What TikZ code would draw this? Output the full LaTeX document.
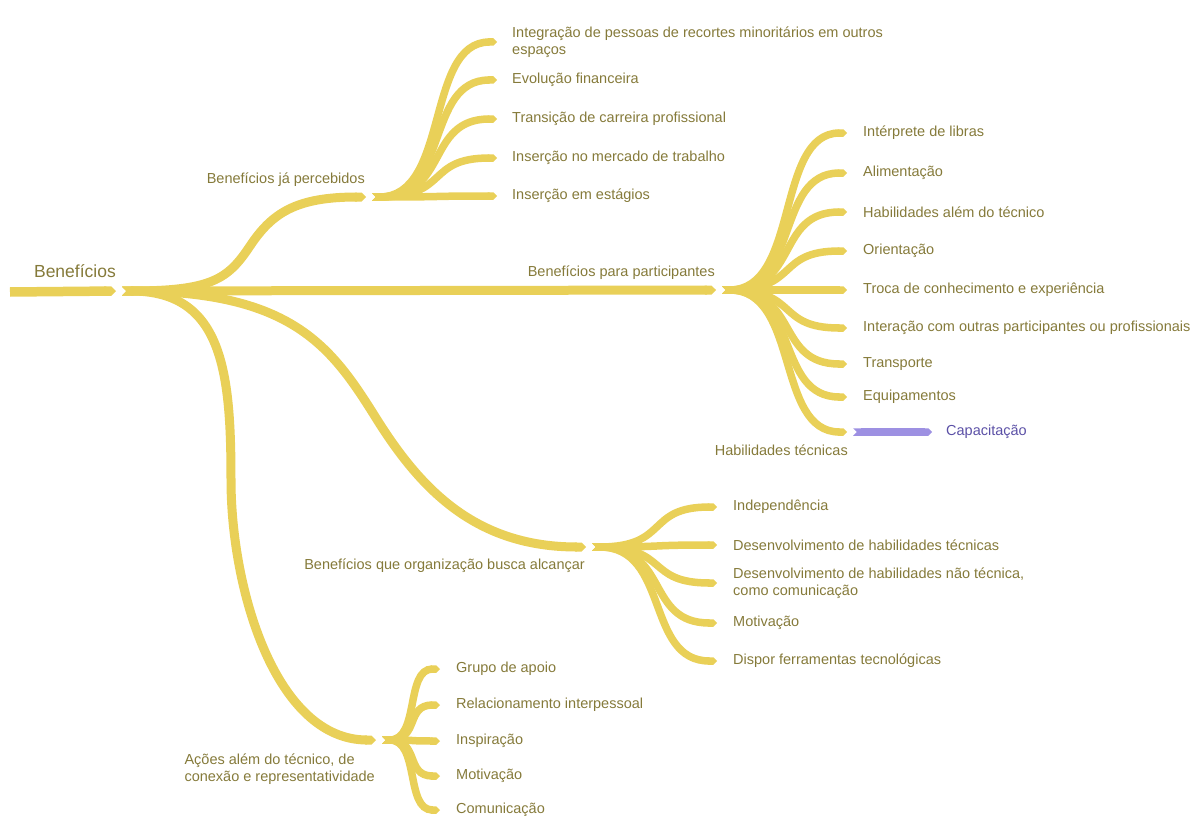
\documentclass[tikz,border=0pt]{standalone}
\usepackage{fontspec}
\setmainfont{Liberation Sans}
\usetikzlibrary{arrows.meta,positioning}
\definecolor{amarelo}{HTML}{E9D058}
\definecolor{oliva}{HTML}{857A3A}
\definecolor{lilas}{HTML}{9D90E2}
\definecolor{roxo}{HTML}{5B50A6}
\tikzset{
  tronco/.style={draw=amarelo,line width=9.5pt,-{Triangle Cap}},
  galho/.style={draw=amarelo,line width=9pt,{Triangle Cap[reversed]}-{Triangle Cap}},
  subgalho/.style={draw=amarelo,line width=7.5pt,{Triangle Cap[reversed]}-{Triangle Cap}},
  rotulo/.style={text=oliva,font=\fontsize{14.5}{17}\selectfont,align=left,inner sep=0pt},
  titulo/.style={text=oliva,font=\fontsize{17.5}{20}\selectfont,inner sep=0pt}
}
\begin{document}
\begin{tikzpicture}[x=1pt,y=-1pt]
\useasboundingbox (0,0) rectangle (1195,816);
% tronco principal
\coordinate (ini) at (10,292);
\coordinate (raiz) at (116,291);
\coordinate (b1) at (366,197);
\coordinate (b2) at (716,290);
\coordinate (b3) at (586,547);
\coordinate (b4) at (376,740);
% pontos de inflexao dos ramos
\coordinate (m1) at (250,246);
\coordinate (m3) at (376,418);
\coordinate (m4) at (231,480);
\draw[tronco] (ini) -- (raiz);
\node[titulo,above left=13pt and 0pt of raiz] (ben) {Benefícios};
% ramos principais
\draw[galho] ([xshift=6pt]raiz) .. controls +(90,0) and +(-22,33) .. (m1)
  .. controls +(22,-33) and +(-70,0) .. (b1);
\draw[galho] ([xshift=6pt]raiz) -- (b2);
\draw[galho] ([xshift=6pt]raiz) .. controls +(170,0) and +(-45,-72) .. (m3)
  .. controls +(45,72) and +(-110,0) .. (b3);
\draw[galho] ([xshift=6pt]raiz) .. controls +(100,0) and +(0,-110) .. (m4)
  .. controls +(0,110) and +(-100,0) .. (b4);
\node[rotulo,above left=10pt and 1pt of b1] (l1) {Benefícios já percebidos};
\node[rotulo,above left=10pt and 1pt of b2] (l2) {Benefícios para participantes};
\node[rotulo,below left=12pt and 1pt of b3] (l3) {Benefícios que organização busca alcançar};
\node[rotulo,below left=14pt and 1pt of b4] (l4) {Ações além do técnico, de\\conexão e representatividade};
% beneficios ja percebidos
\foreach \y/\txt [count=\i] in {42/{Integração de pessoas de recortes minoritários em outros\\espaços},
  80/Evolução financeira,119/Transição de carreira profissional,
  158/Inserção no mercado de trabalho,196/Inserção em estágios}{
  \coordinate (p\i) at (497,\y);
  \draw[subgalho] ([xshift=6pt]b1) .. controls +(78,0) and +(-72,0) .. (p\i);
  \node[rotulo,right=15pt of p\i] (tp\i) {\txt};
}
% beneficios para participantes
\foreach \y/\txt [count=\i] in {133/Intérprete de libras,173/Alimentação,
  212/Habilidades além do técnico,251/Orientação,
  290/Troca de conhecimento e experiência,
  328/Interação com outras participantes ou profissionais,
  364/Transporte,397/Equipamentos}{
  \coordinate (q\i) at (847,\y);
  \draw[subgalho] ([xshift=6pt]b2) .. controls +(78,0) and +(-72,0) .. (q\i);
  \node[rotulo,right=16pt of q\i] (tq\i) {\txt};
}
\coordinate (hab) at (847,432);
\draw[subgalho] ([xshift=6pt]b2) .. controls +(78,0) and +(-72,0) .. (hab);
\node[rotulo,below left=13pt and -1pt of hab] (thab) {Habilidades técnicas};
\coordinate (cap) at (932,432);
\draw[subgalho,draw=lilas] ([xshift=6pt]hab) -- (cap);
\node[rotulo,text=roxo,right=14pt of cap] (tcap) {Capacitação};
% beneficios que a organizacao busca
\foreach \y/\txt [count=\i] in {507/Independência,
  545/Desenvolvimento de habilidades técnicas,
  583/{Desenvolvimento de habilidades não técnica,\\como comunicação},
  623/Motivação,661/Dispor ferramentas tecnológicas}{
  \coordinate (r\i) at (717,\y);
  \draw[subgalho] ([xshift=6pt]b3) .. controls +(78,0) and +(-72,0) .. (r\i);
  \node[rotulo,right=16pt of r\i] (tr\i) {\txt};
}
% acoes alem do tecnico
\foreach \y/\txt [count=\i] in {669/Grupo de apoio,705/Relacionamento interpessoal,
  741/Inspiração,776/Motivação,810/Comunicação}{
  \coordinate (s\i) at (440,\y);
  \draw[subgalho] ([xshift=6pt]b4) .. controls +(38,0) and +(-35,0) .. (s\i);
  \node[rotulo,right=16pt of s\i] (ts\i) {\txt};
}
\end{tikzpicture}
\end{document}
